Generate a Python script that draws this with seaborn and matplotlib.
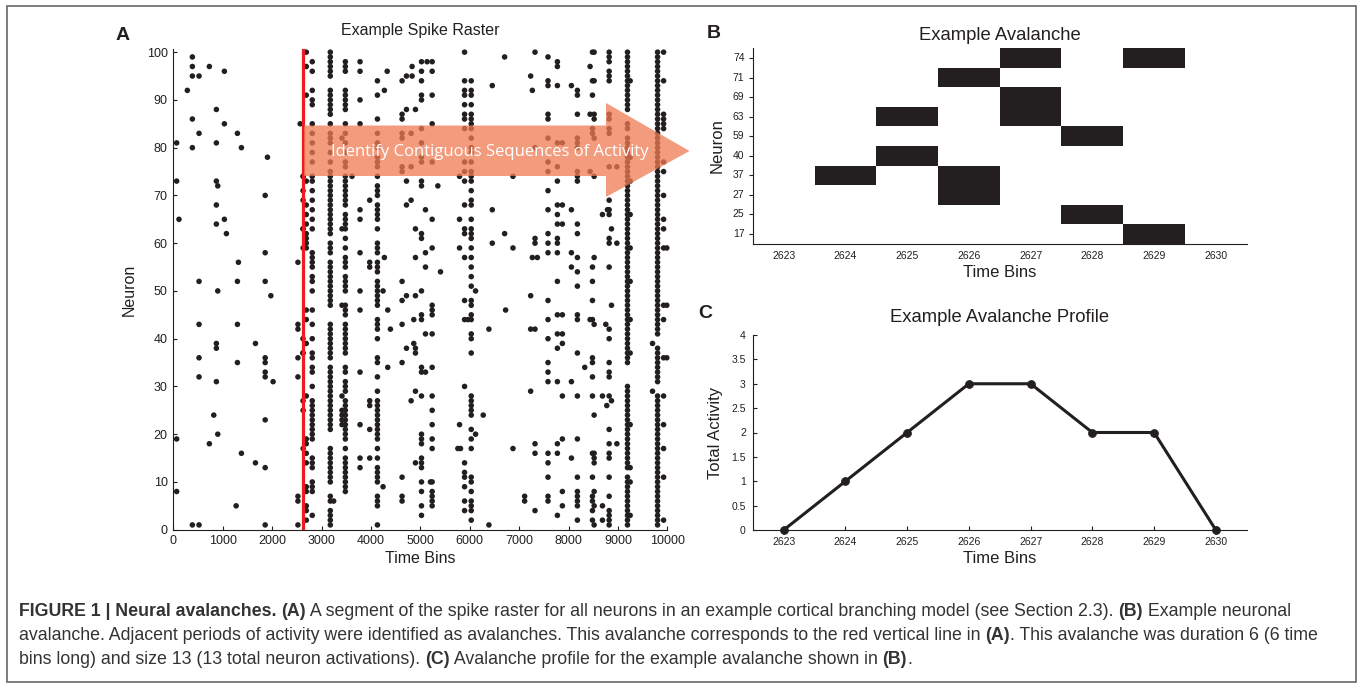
import numpy as np
import pandas as pd
import matplotlib
matplotlib.use("Agg")
import matplotlib.pyplot as plt
from matplotlib.colors import ListedColormap
from matplotlib.patches import Polygon, Rectangle
import seaborn as sns

# ---------------- data ----------------
# scattered single spikes (time bin, neuron)
sparse_t = [68, 68, 115, 386, 386, 386, 521, 284, 386, 521, 386, 730, 1034, 872, 1034, 872, 1298, 1379,
            1906, 872, 900, 872, 1860, 872, 1034, 1075, 1318, 1860, 521, 1298, 1860, 2523, 2569,
            521, 521, 521, 900, 872, 872, 872, 1298, 1298, 1663, 1860, 1860, 1860, 1860, 1975, 2020,
            2523, 2523, 2523, 2523, 2523, 2523, 2523, 68, 68, 386, 521, 819, 900, 730, 1379, 1663,
            1860, 1860, 1272, 1860,
            3246, 3618, 4246, 4246, 4341, 4341, 4395, 4273, 4273, 4330,
            4631, 4720, 4834, 4834, 5024, 5138, 5240, 5024, 5240, 5024, 5024, 5024, 5240, 4720, 4902,
            4631, 4631, 5240, 5024, 4631, 4631, 4814, 5024, 5024, 5024, 5240, 4631, 4631, 4814, 4720,
            5024, 5024, 5355, 4720, 4814, 5105, 5240, 4902, 5024, 5024, 4902, 5105, 5240, 5105, 5409,
            4631, 4631, 4720, 4902, 5024, 5240, 5240, 5240, 5024, 5024, 4868, 4631, 5105, 5240, 4868,
            4902, 4902, 4720, 4631, 5024, 5024, 5105, 5240, 4902, 4814, 5024, 5240, 5240, 5240, 5024,
            5024, 5024, 5240, 5240, 4902, 5024, 5024, 5024, 4631, 5024, 5206, 5240, 4631, 4631, 5024,
            5240, 5240, 5240, 5024, 5024, 5240,
            5794, 5794, 5794, 5794, 5760, 5814, 5963, 6119, 6119, 6274, 6389, 6389, 6457, 6707, 6457,
            6707, 6457, 6876, 6876, 6727, 6876,
            7322, 7585, 7775, 7775, 7234, 7268, 7585, 7585, 7775, 8059, 8180, 8180, 7585, 7585, 8180,
            7585, 7775, 7876, 7322, 8180, 8180, 8180, 7585, 7775, 7585, 8180, 8180, 8180, 7775, 7585,
            7775, 7876, 7585, 8059, 7775, 7775, 7876, 8180, 7585, 7775, 8180, 7322, 7322, 7585, 7775,
            7585, 7775, 7268, 7369, 8059, 8180, 8059, 8180, 7775,
            7234, 7585, 7775, 7876, 7585, 7234, 7322, 7775, 7876, 7876, 7775, 7585, 7585, 7585, 7585,
            7775, 8059, 7234, 7876, 8180, 7876, 7775, 8180, 7322, 7322, 7585, 7775, 7585, 8059, 7585,
            8180, 7112, 7112, 7585, 7585, 7876, 8180, 8180, 8180, 7322, 7876, 7775, 8180, 8180, 8180,
            8180, 8180, 8180,
            8485, 8519, 8437, 8485, 8519, 8485, 8437, 8519, 8519, 8485, 8485, 8519, 8437, 8519, 8519,
            8485, 8485, 8485, 8437, 8485, 8519, 8755, 8870, 8329, 8485, 8485, 8485, 8485, 8687,
            8870, 8775, 8519, 8979, 8485, 8519, 8519, 8519, 8485, 8485, 8519, 8485, 8519, 8485,
            8687, 8485, 8519, 8687, 8979, 8789, 8687, 8870, 8979,
            9701, 9701, 9990, 9990, 9990]
sparse_n = [81, 73, 65, 99, 97, 95, 95, 92, 86, 83, 80, 97, 96, 88, 85, 81, 83, 80,
            78, 73, 72, 68, 70, 64, 65, 62, 56, 58, 52, 52, 52, 56, 85,
            43, 36, 32, 50, 39, 38, 31, 43, 35, 39, 36, 35, 33, 32, 49, 31,
            43, 42, 36, 32, 7, 6, 1, 19, 8, 1, 1, 24, 20, 18, 16, 14,
            23, 13, 5, 1,
            6, 74, 50, 9, 46, 34, 42, 92, 57, 96,
            94, 95, 95, 97, 98, 98, 98, 96, 96, 94, 91, 90, 91, 88, 88,
            87, 86, 85, 84, 83, 82, 83, 81, 78, 77, 77, 76, 75, 76, 73,
            73, 72, 72, 68, 69, 67, 65, 63, 62, 61, 57, 58, 59, 55, 54,
            52, 48, 49, 49, 50, 47, 46, 45, 45, 44, 44, 43, 41, 41, 39,
            38, 37, 38, 35, 34, 33, 33, 34, 29, 27, 28, 28, 25, 22, 20,
            19, 18, 19, 17, 14, 15, 14, 13, 11, 10, 10, 10, 7, 6, 8,
            8, 6, 7, 5, 3, 5,
            74, 65, 59, 22, 17, 17, 44, 50, 20, 24, 42, 1, 93, 99, 67,
            62, 60, 59, 74, 46, 17,
            100, 99, 98, 97, 95, 92, 94, 93, 93, 93, 92, 91, 87, 86, 87,
            82, 81, 81, 80, 82, 81, 80, 77, 76, 75, 75, 74, 73, 73, 71,
            68, 68, 67, 67, 66, 64, 64, 64, 62, 61, 62, 61, 60, 60, 60,
            58, 58, 57, 57, 58, 57, 55, 54, 52,
            49, 48, 45, 45, 44, 42, 42, 41, 41, 39, 38, 40, 35, 33, 31,
            31, 31, 29, 28, 28, 19, 18, 19, 18, 16, 16, 16, 14, 15, 11,
            11, 7, 6, 7, 6, 8, 8, 7, 6, 4, 5, 3, 5, 2, 51,
            45, 44, 37,
            100, 100, 97, 94, 94, 91, 87, 87, 86, 84, 83, 82, 75, 74, 57,
            55, 52, 48, 44, 44, 43, 43, 47, 34, 35, 36, 32, 28, 28,
            27, 26, 24, 18, 16, 16, 15, 14, 11, 7, 8, 6, 5, 4,
            5, 2, 1, 2, 76, 67, 66, 63, 60,
            39, 29, 59, 47, 36]

# dense vertical columns of activity
col_2692 = [2, 4, 5, 8, 9, 14, 16, 18, 19, 28, 39, 44, 46, 59, 60, 61, 62, 64, 66, 68, 73, 91, 97, 100]
col_2813 = [3, 8, 9, 10, 13, 14, 15, 19, 20, 21, 22, 23, 24, 25, 26, 27, 30, 33, 34, 36, 37, 40, 43,
            46, 50, 52, 53, 55, 56, 57, 58, 63, 65, 67, 69, 71, 73, 74, 77, 79, 81, 83, 85, 89, 90,
            92, 96, 98]
col_3178 = [1, 2, 3, 4, 6, 7, 10, 11, 12, 13, 14, 15, 16, 17, 21, 22, 23, 24, 25, 26, 27, 28, 29, 30,
            31, 32, 33, 34, 36, 37, 38, 39, 40, 41, 42, 43, 47, 48, 49, 50, 51, 52, 53, 54, 55, 56,
            58, 59, 60, 62, 63, 64, 65, 66, 67, 68, 69, 70, 71, 72, 73, 74, 75, 77, 79, 81, 82, 83,
            85, 87, 88, 89, 90, 91, 92, 95, 96, 97, 98, 99, 100]
col_3415 = [22, 23, 24, 25, 28, 47, 63, 82]
col_3483 = [8, 9, 10, 11, 12, 13, 14, 15, 17, 19, 20, 21, 22, 23, 24, 25, 26, 27, 29, 30, 31, 33,
            34, 37, 38, 39, 40, 41, 42, 43, 45, 46, 47, 50, 51, 52, 53, 55, 56, 57, 59, 61, 63, 64,
            65, 66, 68, 69, 70, 71, 72, 73, 74, 76, 77, 79, 81, 83, 85, 88, 89, 90, 91, 92, 96, 97, 98]
col_3780 = [13, 15, 22, 33, 46, 50, 58, 65, 67, 85, 90, 96, 98]
col_3976 = [15, 21, 26, 27, 55, 56, 69]
col_4132 = [1, 5, 6, 7, 10, 11, 12, 13, 15, 17, 19, 20, 21, 22, 23, 24, 25, 26, 27, 29, 32, 35, 36,
            40, 42, 43, 44, 47, 48, 49, 50, 51, 52, 54, 55, 56, 58, 59, 60, 63, 65, 66, 67, 68, 70,
            71, 72, 74, 76, 77, 78, 80, 81, 83, 86, 91, 94]
col_5896 = [4, 6, 9, 11, 12, 14, 30, 44, 48, 57, 62, 63, 68, 73, 75, 77, 84, 86, 87, 89, 91, 92, 94, 100]
col_6031 = [2, 4, 5, 6, 8, 10, 11, 17, 19, 21, 24, 25, 26, 27, 28, 37, 40, 41, 44, 45, 47, 48, 51,
            53, 55, 57, 59, 61, 62, 63, 65, 68, 69, 71, 73, 74, 75, 77, 79, 80, 82, 84, 85, 86, 87,
            89, 91, 92, 94]
col_8823 = [1, 2, 3, 4, 7, 11, 15, 16, 18, 21, 28, 32, 33, 35, 40, 42, 55, 60, 61, 66, 67, 69, 76,
            83, 84, 86, 87, 94, 95, 96, 98, 99, 100]
col_9194 = [1, 2, 3, 4, 5, 6, 7, 8, 9, 10, 11, 13, 14, 15, 16, 17, 18, 19, 20, 21, 22, 23, 24, 25,
            26, 27, 28, 29, 30, 35, 36, 37, 38, 39, 40, 41, 42, 43, 44, 45, 46, 47, 48, 49, 50, 51,
            52, 53, 54, 55, 56, 57, 58, 59, 60, 61, 62, 63, 64, 65, 66, 67, 68, 69, 70, 71, 72, 73,
            74, 75, 76, 77, 78, 79, 80, 81, 82, 84, 85, 88, 89, 90, 91, 92, 93, 94, 95, 96, 97, 98,
            99, 100]
col_9248 = [3, 10, 13, 22, 37, 44, 52, 59, 66, 73, 78, 94]
col_9803 = [1, 2, 3, 4, 5, 6, 7, 8, 9, 10, 11, 12, 13, 14, 15, 16, 17, 18, 19, 20, 21, 22, 23, 24,
            25, 26, 27, 28, 31, 32, 33, 34, 35, 36, 37, 38, 41, 42, 43, 44, 45, 46, 47, 48, 49, 50,
            51, 52, 53, 54, 55, 56, 57, 58, 59, 60, 61, 62, 63, 64, 65, 66, 67, 68, 69, 70, 71, 72,
            73, 74, 75, 76, 77, 78, 79, 80, 81, 82, 83, 84, 85, 86, 87, 88, 89, 90, 91, 92, 93, 94,
            95, 96, 97, 98, 99, 100]
col_9925 = [2, 11, 17, 22, 28, 36, 44, 47, 59, 63, 65, 70, 75, 77, 84, 85, 86, 87, 94, 100]
column_times = [2692, 2813, 3178, 3415, 3483, 3780, 3976, 4132, 5896, 6031, 8823, 9194, 9248, 9803, 9925]
column_neurons = [col_2692, col_2813, col_3178, col_3415, col_3483, col_3780, col_3976, col_4132,
                  col_5896, col_6031, col_8823, col_9194, col_9248, col_9803, col_9925]

# example avalanche (panel B)
aval_neurons = [74, 71, 69, 63, 59, 40, 37, 27, 25, 17]
aval_bins = [2623, 2624, 2625, 2626, 2627, 2628, 2629, 2630]
active_neuron = [37, 40, 63, 71, 37, 27, 74, 69, 63, 59, 25, 74, 17]
active_bin = [2624, 2625, 2625, 2626, 2626, 2626, 2627, 2627, 2627, 2628, 2628, 2629, 2629]

# avalanche profile (panel C)
profile_bins = [2623, 2624, 2625, 2626, 2627, 2628, 2629, 2630]
profile_activity = [0, 1, 2, 3, 3, 2, 2, 0]

red_line_bin = 2626

# ---------------- style ----------------
sns.set_style("ticks")
plt.rcParams['font.family'] = ['Liberation Sans', 'DejaVu Sans']
INK = '#231f20'
plt.rcParams['axes.edgecolor'] = INK
plt.rcParams['axes.linewidth'] = 0.8
plt.rcParams['xtick.color'] = INK
plt.rcParams['ytick.color'] = INK
plt.rcParams['text.color'] = INK
plt.rcParams['axes.labelcolor'] = INK

W, H = 1360, 687
fig = plt.figure(figsize=(W / 100, H / 100), dpi=100)


def px_axes(l, t, r, b):
    return fig.add_axes([l / W, 1 - b / H, (r - l) / W, (b - t) / H])


# ---------------- panel A: spike raster ----------------
raster = pd.DataFrame({'t': sparse_t, 'n': sparse_n})
cols = pd.DataFrame({'t': [t for t, ns in zip(column_times, column_neurons) for _ in ns],
                     'n': [n for ns in column_neurons for n in ns]})
aval = pd.DataFrame({'t': active_bin, 'n': active_neuron})
raster = pd.concat([raster, cols, aval], ignore_index=True)

axA = px_axes(173.3, 49.3, 667.3, 529.7)
sns.scatterplot(data=raster, x='t', y='n', ax=axA, s=16, color=INK, edgecolor='none',
                linewidth=0, zorder=2, clip_on=False)
axA.axvline(red_line_bin, ymin=0, ymax=1.0, color='#ed1c24', lw=2.3, zorder=3)
axA.set_xlim(0, 10000)
axA.set_ylim(0, 100.6)
axA.set_xticks(np.arange(0, 10001, 1000))
axA.set_yticks(np.arange(0, 101, 10))
axA.tick_params(direction='in', length=3, width=0.8, labelsize=9, pad=4)
axA.set_xlabel('Time Bins', fontsize=11.5, labelpad=3)
axA.set_ylabel('Neuron', fontsize=11.5, labelpad=7)
axA.set_title('Example Spike Raster', fontsize=11.5, pad=10)
sns.despine(ax=axA)

# ---------------- panel B: example avalanche ----------------
mat = pd.DataFrame(0, index=aval_neurons, columns=aval_bins)
for n, b in zip(active_neuron, active_bin):
    mat.loc[n, b] = 1
axB = px_axes(752.8, 48.2, 1246.7, 243.8)
sns.heatmap(mat, ax=axB, cmap=ListedColormap(['white', INK]), cbar=False)
axB.set_xlim(0, len(aval_bins))
axB.set_ylim(len(aval_neurons), 0)
for s in ['left', 'bottom']:
    axB.spines[s].set_visible(True)
    axB.spines[s].set_color(INK)
    axB.spines[s].set_linewidth(0.8)
axB.tick_params(axis='x', direction='in', length=3, width=0.8, labelsize=7.5, pad=5, rotation=0)
axB.tick_params(axis='y', direction='out', length=3, width=0.8, labelsize=7.5, pad=3, rotation=0)
axB.set_xlabel('Time Bins', fontsize=12, labelpad=3)
axB.set_ylabel('Neuron', fontsize=12, labelpad=6)
axB.set_title('Example Avalanche', fontsize=13.3, pad=6)

# ---------------- panel C: avalanche profile ----------------
axC = px_axes(752.8, 335, 1246.7, 530)
sns.lineplot(x=profile_bins, y=profile_activity, ax=axC, color=INK, lw=2.2, marker='o',
             markersize=5.5, markeredgecolor=INK, clip_on=False)
axC.set_xlim(2622.5, 2630.5)
axC.set_ylim(0, 4)
axC.set_xticks(profile_bins)
axC.set_yticks(np.arange(0, 4.01, 0.5))
axC.set_yticklabels(['0', '0.5', '1', '1.5', '2', '2.5', '3', '3.5', '4'])
axC.tick_params(direction='in', length=3, width=0.8, labelsize=7.5, pad=5)
axC.set_xlabel('Time Bins', fontsize=12, labelpad=3)
axC.set_ylabel('Total Activity', fontsize=12, labelpad=6)
axC.set_title('Example Avalanche Profile', fontsize=13.3, pad=9)
sns.despine(ax=axC)

# ---------------- panel letters ----------------
for lab, x, y in [('A', 123, 35), ('B', 714, 33), ('C', 705, 313)]:
    fig.text(x / W, 1 - y / H, lab, fontsize=14, fontweight='bold', ha='center', va='center')

# ---------------- arrow annotation ----------------
arrow_px = [(304, 125.5), (606, 125.5), (606, 103), (689.5, 151), (606, 197), (606, 176), (304, 176)]
fig.patches.append(Polygon([(x / W, 1 - y / H) for x, y in arrow_px], closed=True,
                           transform=fig.transFigure, facecolor='#f07a52', alpha=0.75,
                           edgecolor='none', zorder=5))
fig.text(490 / W, 1 - 152 / H, 'Identify Contiguous Sequences of Activity', color='white',
         fontsize=12, family='Open Sans', ha='center', va='center', zorder=6)

# ---------------- frame and caption ----------------
fig.patches.append(Rectangle((7 / W, 1 - 682 / H), (1356 - 7) / W, (682 - 6) / H,
                             transform=fig.transFigure, fill=False, edgecolor='#666666', lw=1.2))

caption = [
    [("FIGURE 1 | Neural avalanches.", True), (" ", False), ("(A)", True),
     (" A segment of the spike raster for all neurons in an example cortical branching model (see Section 2.3). ", False),
     ("(B)", True), (" Example neuronal", False)],
    [("avalanche. Adjacent periods of activity were identified as avalanches. This avalanche corresponds to the red vertical line in ", False),
     ("(A)", True), (". This avalanche was duration 6 (6 time", False)],
    [("bins long) and size 13 (13 total neuron activations). ", False), ("(C)", True),
     (" Avalanche profile for the example avalanche shown in ", False), ("(B)", True), (".", False)],
]
renderer = fig.canvas.get_renderer()
for i, line in enumerate(caption):
    x = 19.0
    y = 611 + 24 * i
    for txt, bold in line:
        t = fig.text(x / W, 1 - y / H, txt, fontsize=12.8, fontweight='bold' if bold else 'normal',
                     ha='left', va='center', color='#333333')
        x += t.get_window_extent(renderer).width

fig.savefig('out.png', dpi=100)
